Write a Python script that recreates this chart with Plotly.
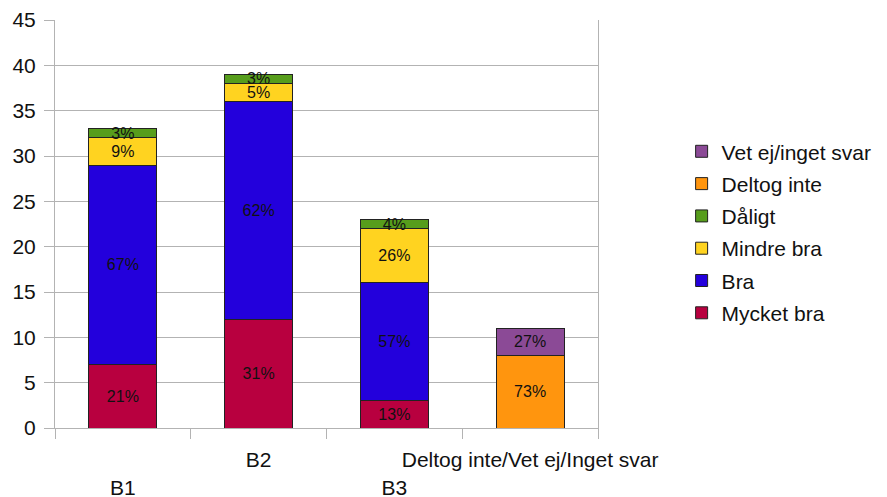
import plotly.graph_objects as go

categories = ["B1", "B2", "B3", "Deltog inte/Vet ej/Inget svar"]
tick_labels = ["<br>B1", "B2", "<br>B3", "Deltog inte/Vet ej/Inget svar"]

series_names = ["Mycket bra", "Bra", "Mindre bra", "Dåligt", "Deltog inte", "Vet ej/inget svar"]
mycket_bra = [7, 12, 3, None]
bra = [22, 24, 13, None]
mindre_bra = [3, 2, 6, None]
daligt = [1, 1, 1, None]
deltog_inte = [None, None, None, 8]
vet_ej = [None, None, None, 3]

mycket_bra_pct = ["21%", "31%", "13%", ""]
bra_pct = ["67%", "62%", "57%", ""]
mindre_bra_pct = ["9%", "5%", "26%", ""]
daligt_pct = ["3%", "3%", "4%", ""]
deltog_inte_pct = ["", "", "", "73%"]
vet_ej_pct = ["", "", "", "27%"]

colors = ["#b8003f", "#2300dc", "#ffd320", "#579d1c", "#ff950e", "#8b4a96"]

values = [mycket_bra, bra, mindre_bra, daligt, deltog_inte, vet_ej]
texts = [mycket_bra_pct, bra_pct, mindre_bra_pct, daligt_pct, deltog_inte_pct, vet_ej_pct]

FONT = "Liberation Sans, Arial, sans-serif"

fig = go.Figure()
n = len(series_names)
for i, (name, vals, txt, col) in enumerate(zip(series_names, values, texts, colors)):
    fig.add_trace(go.Bar(
        x=categories, y=vals, name=name, text=txt,
        textposition="inside", insidetextanchor="middle", textangle=0,
        textfont=dict(color="#111111", size=16, family=FONT),
        marker=dict(color=col, line=dict(color="#222222", width=1)),
        legendgroup=name, legendrank=100 * (n - i),
    ))

fig.update_layout(
    barmode="stack",
    bargap=0.5,
    width=887, height=497,
    margin=dict(l=47, r=297, t=12, b=77, autoexpand=False),
    plot_bgcolor="white", paper_bgcolor="white",
    font=dict(family=FONT, size=19, color="#111111"),
    uniformtext=dict(minsize=16, mode="show"),
    showlegend=True,
    legend=dict(
        x=1.154, y=0.48, xanchor="left", yanchor="middle",
        traceorder="grouped", tracegroupgap=2,
        font=dict(size=21, family=FONT, color="#111111"),
        bgcolor="rgba(0,0,0,0)",
    ),
)
fig.update_xaxes(
    type="category", automargin=False,
    tickmode="array", tickvals=categories, ticktext=tick_labels, tickangle=0,
    tickson="boundaries", ticks="outside", ticklen=10, tickcolor="#b3b3b3",
    showline=True, linecolor="#b3b3b3", linewidth=1, mirror=False,
    showgrid=False, ticklabelstandoff=13,
    tickfont=dict(size=21),
)
fig.update_yaxes(
    range=[0, 45], dtick=5, tick0=0, automargin=False,
    showgrid=True, gridcolor="#b3b3b3", gridwidth=1,
    ticks="outside", ticklen=10, tickcolor="#b3b3b3",
    showline=True, linecolor="#b3b3b3", linewidth=1, mirror=True,
    zeroline=False, tickfont=dict(size=21), ticklabelstandoff=4,
)

fig.write_html("out.html")
